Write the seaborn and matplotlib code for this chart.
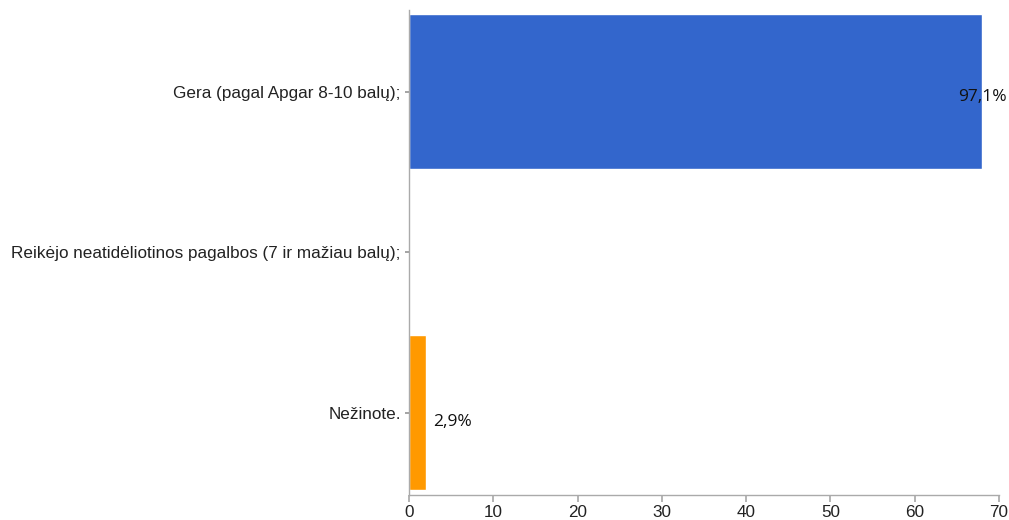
import matplotlib
matplotlib.use("Agg")
import matplotlib.pyplot as plt
import seaborn as sns
import pandas as pd

categories = ["Gera (pagal Apgar 8-10 balų);",
              "Reikėjo neatidėliotinos pagalbos (7 ir mažiau balų);",
              "Nežinote."]
values = [68, 0, 2]
labels = ["97,1%", "", "2,9%"]
colors = ["#3366CC", "#DC3912", "#FF9900"]
xticks = [0, 10, 20, 30, 40, 50, 60, 70]

sns.set_theme(style="white")
plt.rcParams['font.family'] = ['Liberation Sans', 'DejaVu Sans']

df = pd.DataFrame({"cat": categories, "val": values})

fig = plt.figure(figsize=(10.09, 5.2), dpi=100)
ax = fig.add_axes([409/1009, 1-495/520, (999-409)/1009, (495-10)/520])
sns.barplot(data=df, y="cat", x="val", hue="cat", palette=colors, legend=False,
            width=0.966, ax=ax, saturation=1, orient="h")
ax.set_xlim(0, 70)
ax.set_ylim(2.514, -0.508)
ax.set_xticks(xticks)
ax.set_xticklabels([str(t) for t in xticks], fontsize=12.3, color="#222222")
ax.tick_params(axis="y", labelsize=12.3, labelcolor="#222222", length=3, color="#999999",
               direction="out", left=True, pad=3)
ax.tick_params(axis="x", length=5, color="#aaaaaa", direction="out", bottom=True, pad=2)
ax.set_xlabel("")
ax.set_ylabel("")
for s in ["top", "right"]:
    ax.spines[s].set_visible(False)
for s in ["left", "bottom"]:
    ax.spines[s].set_color("#aaaaaa")
    ax.spines[s].set_linewidth(1)

for i, (v, lab) in enumerate(zip(values, labels)):
    if not lab:
        continue
    if v > 10:
        ax.text(65.1, i + 0.034, lab, ha="left", va="center", fontsize=12.5,
                family=["Open Sans", "DejaVu Sans"], color="#111111", clip_on=False)
    else:
        ax.text(v + 0.85, i + 0.06, lab, ha="left", va="center", fontsize=12.5,
                family=["Open Sans", "DejaVu Sans"], color="#111111")

fig.savefig("out.png", dpi=100)
